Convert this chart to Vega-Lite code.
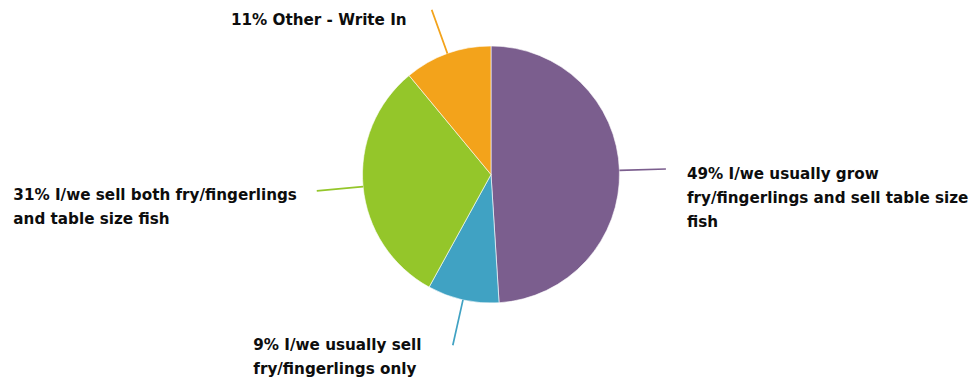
{
  "$schema": "https://vega.github.io/schema/vega-lite/v6.json",
  "width": 966,
  "height": 349,
  "autosize": {"type": "none"},
  "padding": {"left": 8, "top": 0, "right": 0, "bottom": 32},
  "background": "white",
  "config": {"view": {"stroke": null}},
  "data": {
    "values": [
      {"order": 1, "category": "I/we usually grow fry/fingerlings and sell table size fish", "pct": 49, "label": "49% I/we usually grow\nfry/fingerlings and sell table size\nfish"},
      {"order": 2, "category": "I/we usually sell fry/fingerlings only", "pct": 9, "label": "9% I/we usually sell\nfry/fingerlings only"},
      {"order": 3, "category": "I/we sell both fry/fingerlings and table size fish", "pct": 31, "label": "31% I/we sell both fry/fingerlings\nand table size fish"},
      {"order": 4, "category": "Other - Write In", "pct": 11, "label": "11% Other - Write In"}
    ]
  },
  "transform": [
    {"stack": "pct", "groupby": [], "sort": [{"field": "order", "order": "ascending"}], "as": ["s0", "s1"]}
  ],
  "layer": [
    {
      "mark": {"type": "arc", "radius": 128.5, "stroke": "white", "strokeWidth": 0.6},
      "encoding": {
        "theta": {"field": "s0", "type": "quantitative", "stack": null, "scale": {"domain": [0, 100]}},
        "theta2": {"field": "s1"},
        "color": {
          "field": "category", "type": "nominal", "legend": null,
          "scale": {
            "domain": ["I/we usually grow fry/fingerlings and sell table size fish", "I/we usually sell fry/fingerlings only", "I/we sell both fry/fingerlings and table size fish", "Other - Write In"],
            "range": ["#7b5e8e", "#40a2c3", "#94c62a", "#f3a31b"]
          }
        }
      }
    },
    {
      "transform": [
        {"fold": ["s0", "s1"], "as": ["edge", "angle"]},
        {"aggregate": [{"op": "mean", "field": "angle", "as": "mid"}], "groupby": ["order", "category", "label"]}
      ],
      "layer": [
        {
          "mark": {"type": "arc", "radius": 175, "radius2": 128.5, "filled": false, "strokeWidth": 1.7},
          "encoding": {
            "theta": {"field": "mid", "type": "quantitative", "stack": null, "scale": {"domain": [0, 100]}},
            "theta2": {"field": "mid"},
            "color": {
              "field": "category", "type": "nominal", "legend": null,
              "scale": {
                "domain": ["I/we usually grow fry/fingerlings and sell table size fish", "I/we usually sell fry/fingerlings only", "I/we sell both fry/fingerlings and table size fish", "Other - Write In"],
                "range": ["#7b5e8e", "#40a2c3", "#94c62a", "#f3a31b"]
              }
            }
          }
        },
        {
          "transform": [{"filter": "datum.order == 1"}],
          "mark": {"type": "text", "radius": 196, "align": "left", "baseline": "alphabetic", "dy": 11, "lineBreak": "\n", "lineHeight": 23.7, "font": "DejaVu Sans", "fontWeight": "bold", "fontSize": 15.2, "color": "#0d0d0d"},
          "encoding": {
            "theta": {"field": "mid", "type": "quantitative", "stack": null, "scale": {"domain": [0, 100]}},
            "text": {"field": "label"}
          }
        },
        {
          "transform": [{"filter": "datum.order == 2"}],
          "mark": {"type": "text", "radius": 179.8, "align": "left", "baseline": "alphabetic", "dx": -198.5, "lineBreak": "\n", "lineHeight": 23.7, "font": "DejaVu Sans", "fontWeight": "bold", "fontSize": 15.2, "color": "#0d0d0d"},
          "encoding": {
            "theta": {"field": "mid", "type": "quantitative", "stack": null, "scale": {"domain": [0, 100]}},
            "text": {"field": "label"}
          }
        },
        {
          "transform": [{"filter": "datum.order == 3"}],
          "mark": {"type": "text", "radius": 479.8, "align": "left", "baseline": "alphabetic", "dy": -19.7, "lineBreak": "\n", "lineHeight": 23.7, "font": "DejaVu Sans", "fontWeight": "bold", "fontSize": 15.2, "color": "#0d0d0d"},
          "encoding": {
            "theta": {"field": "mid", "type": "quantitative", "stack": null, "scale": {"domain": [0, 100]}},
            "text": {"field": "label"}
          }
        },
        {
          "transform": [{"filter": "datum.order == 4"}],
          "mark": {"type": "text", "radius": 158.9, "align": "right", "baseline": "alphabetic", "dx": -30.5, "lineBreak": "\n", "lineHeight": 23.7, "font": "DejaVu Sans", "fontWeight": "bold", "fontSize": 15.2, "color": "#0d0d0d"},
          "encoding": {
            "theta": {"field": "mid", "type": "quantitative", "stack": null, "scale": {"domain": [0, 100]}},
            "text": {"field": "label"}
          }
        }
      ]
    }
  ]
}
